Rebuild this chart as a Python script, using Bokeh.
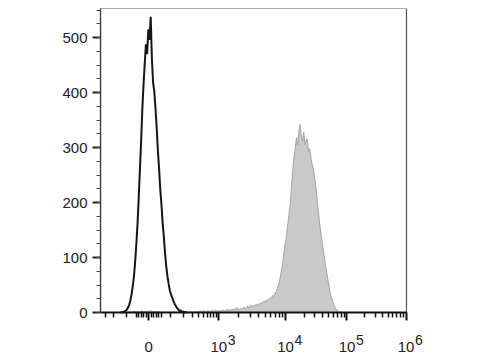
import numpy as np
from bokeh.plotting import figure
from bokeh.models import Range1d, FixedTicker, LinearAxis, Label, BoxAnnotation
from bokeh.embed import file_html
from bokeh.resources import INLINE

# Histogram of the unstained / control sample (black line), one count per display channel
BLACK_FIRST_CHANNEL = 17
BLACK_COUNTS = [0, 1, 0, 2, 3, 5, 9, 14, 22, 33,
                48, 66, 92, 125, 162, 210, 262, 312, 370, 415,
                452, 488, 470, 515, 496, 538, 462, 418, 402, 371,
                336, 295, 262, 224, 196, 163, 137, 108, 84, 66,
                52, 40, 33, 27, 21, 16, 12, 8, 6, 3,
                4, 1, 2, 0, 1, 0]

# Histogram of the stained sample (grey filled), one count per display channel
GRAY_FIRST_CHANNEL = 20
GRAY_COUNTS = [0, 0, 1, 0, 1, 1, 0, 1, 2, 1,
               1, 2, 1, 1, 2, 3, 1, 2, 1, 2,
               1, 2, 4, 2, 1, 2, 1, 1, 2, 1,
               1, 0, 1, 1, 0, 1, 0, 0, 1, 0,
               0, 1, 0, 0, 1, 0, 1, 0, 0, 1,
               0, 1, 1, 0, 1, 2, 1, 0, 1, 1,
               2, 1, 1, 3, 1, 2, 4, 2, 1, 2,
               3, 2, 2, 4, 3, 2, 5, 3, 4, 3,
               2, 4, 3, 5, 2, 4, 6, 3, 5, 4,
               6, 4, 7, 5, 9, 6, 5, 8, 6, 7,
               10, 7, 9, 12, 8, 11, 14, 10, 13, 12,
               15, 12, 16, 14, 18, 16, 19, 21, 18, 23,
               22, 25, 27, 26, 31, 30, 35, 38, 44, 50,
               60, 72, 85, 100, 118, 130, 148, 165, 185, 202,
               238, 262, 285, 300, 318, 305, 330, 342, 322, 312,
               328, 305, 312, 316, 292, 298, 282, 270, 262, 248,
               232, 210, 188, 168, 150, 135, 120, 105, 90, 75,
               62, 50, 38, 29, 22, 15, 10, 6, 4, 2,
               1, 0, 1, 0, 0]

# Display scale (256 channels): where zero and the decades sit
N_CHANNELS = 256
ZERO_CHANNEL = 40.4
DECADE_EXPONENTS = [3, 4, 5, 6]
DECADE_CHANNELS = [99.0, 154.8, 206.2, 255.6]
ZERO_LABEL = "0"
DECADE_BASE_LABEL = "10"
LINEAR_MINOR_VALUES = [-300, -200, -100, -50, -40, -30, -20, -10,
                       10, 20, 30, 40, 50, 100, 200, 300, 400, 500, 600, 700, 800, 900]
LOG_MINOR_MULTIPLIERS = [2, 3, 4, 5, 6, 7, 8, 9]

Y_MAJOR = [0, 100, 200, 300, 400, 500]
Y_MINOR_STEP = 25
Y_MAX = 553

FONT = "Liberation Sans"

# layout (pixels)
W, H = 480, 360
LEFT, PLOT_W = 100, 306
TOP, PLOT_H = 8, 304


def to_channel(v):
    if v >= 1000:
        return float(np.interp(np.log10(v), DECADE_EXPONENTS, DECADE_CHANNELS))
    return float(ZERO_CHANNEL + (DECADE_CHANNELS[0] - ZERO_CHANNEL)
                 * np.arcsinh(v / 87.0) / np.arcsinh(1000 / 87.0))


black_x = np.arange(BLACK_FIRST_CHANNEL, BLACK_FIRST_CHANNEL + len(BLACK_COUNTS))
gray_x = np.arange(GRAY_FIRST_CHANNEL, GRAY_FIRST_CHANNEL + len(GRAY_COUNTS))

# the drawing frame runs to the right and bottom edges of the canvas so that the
# exponent labels below the x axis are not clipped; the visible plot box is drawn separately
px_per_ch = PLOT_W / N_CHANNELS
px_per_count = PLOT_H / Y_MAX
x_end = N_CHANNELS + (W - LEFT - PLOT_W) / px_per_ch
y_start = -(H - TOP - PLOT_H) / px_per_count

p = figure(width=W, height=H, x_range=Range1d(0, x_end), y_range=Range1d(y_start, Y_MAX),
           x_axis_type=None, y_axis_type=None, toolbar_location=None,
           output_backend="svg", min_border_left=LEFT, min_border_right=0,
           min_border_top=TOP, min_border_bottom=0)
p.background_fill_color = "white"
p.border_fill_color = "white"
p.outline_line_color = None

p.add_layout(BoxAnnotation(left=0, right=N_CHANNELS, bottom=0, top=Y_MAX,
                           fill_alpha=0, line_color="#555555", line_alpha=1.0,
                           line_width=1.2, level="underlay"))

p.varea(x=gray_x, y1=0, y2=GRAY_COUNTS, fill_color="#c9c9c9")
p.line(x=gray_x, y=GRAY_COUNTS, line_color="#a4a4a4", line_width=1)
p.line(x=black_x, y=BLACK_COUNTS, line_color="#151515", line_width=2)

# x axis
major_x = [round(ZERO_CHANNEL, 3)] + [round(c, 3) for c in DECADE_CHANNELS]
minor_x = [to_channel(v) for v in LINEAR_MINOR_VALUES]
for e in DECADE_EXPONENTS[:-1]:
    minor_x += [to_channel(m * 10 ** e) for m in LOG_MINOR_MULTIPLIERS]
xaxis = LinearAxis(ticker=FixedTicker(ticks=major_x, minor_ticks=minor_x),
                   fixed_location=0, bounds=(0, N_CHANNELS))
overrides = {major_x[0]: ZERO_LABEL}
for c in major_x[1:]:
    overrides[c] = DECADE_BASE_LABEL
xaxis.major_label_overrides = overrides
xaxis.axis_line_color = "#111111"
xaxis.axis_line_width = 2
xaxis.major_tick_line_color = "#111111"
xaxis.major_tick_line_width = 2
xaxis.minor_tick_line_color = "#111111"
xaxis.minor_tick_line_width = 1.5
xaxis.major_tick_in = 0
xaxis.major_tick_out = 8
xaxis.minor_tick_in = 0
xaxis.minor_tick_out = 5
xaxis.major_label_standoff = 21
xaxis.major_label_text_font = FONT
xaxis.major_label_text_font_size = "15px"
xaxis.major_label_text_color = "#222222"
p.add_layout(xaxis, "below")

# exponents of the decade labels
for c, e in zip(DECADE_CHANNELS, DECADE_EXPONENTS):
    p.add_layout(Label(x=c, y=16, y_units="screen", x_offset=9, text=str(e),
                       text_font=FONT, text_font_size="14px", text_color="#222222",
                       text_align="left", text_baseline="bottom"))

# y axis
yaxis = LinearAxis(ticker=FixedTicker(ticks=Y_MAJOR,
                                      minor_ticks=list(range(0, Y_MAX, Y_MINOR_STEP))),
                   bounds=(0, Y_MAX))
yaxis.axis_line_color = "#3a3a3a"
yaxis.axis_line_width = 1.3
yaxis.major_tick_line_color = "#222222"
yaxis.major_tick_line_width = 2
yaxis.minor_tick_line_color = "#444444"
yaxis.minor_tick_line_width = 1
yaxis.major_tick_in = 0
yaxis.major_tick_out = 8
yaxis.minor_tick_in = 0
yaxis.minor_tick_out = 4
yaxis.major_label_standoff = 5
yaxis.major_label_text_font = FONT
yaxis.major_label_text_font_size = "15px"
yaxis.major_label_text_color = "#222222"
p.add_layout(yaxis, "left")

open("out.html", "w").write(file_html(p, INLINE))
